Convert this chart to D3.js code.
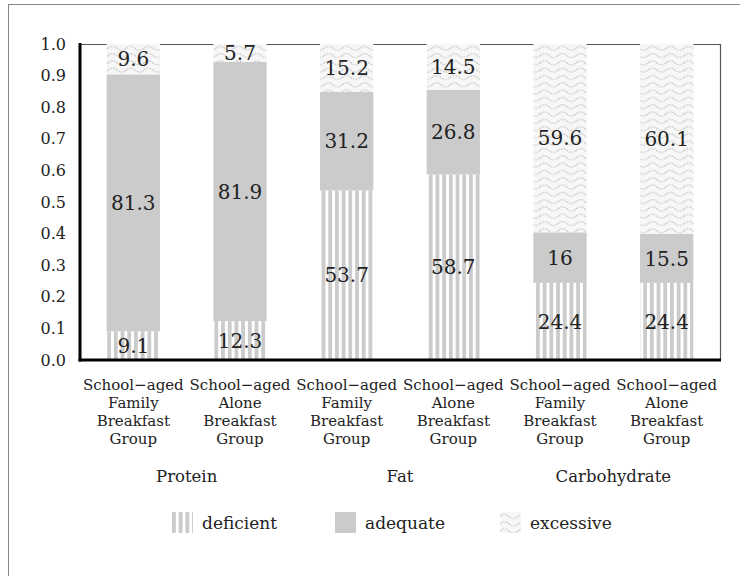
<!DOCTYPE html>
<html>
<head>
<meta charset="utf-8">
<script src="https://cdn.jsdelivr.net/npm/d3@7"></script>
<style>
  body { margin: 0; background: #fff; }
  svg { display: block; }
</style>
</head>
<body>
<svg id="svgx"></svg>
<script>
// values are % of the group (100% stacked columns)
var nutrients = ["Protein", "Fat", "Carbohydrate"];
var groupLabel = ["School\u2212aged", "Family", "Breakfast", "Group"];
var groupLabel2 = ["School\u2212aged", "Alone", "Breakfast", "Group"];
var categories = ["Protein-family", "Protein-alone", "Fat-family", "Fat-alone", "Carb-family", "Carb-alone"];
var deficient = [9.1, 12.3, 53.7, 58.7, 24.4, 24.4];
var adequate = [81.3, 81.9, 31.2, 26.8, 16, 15.5];
var excessive = [9.6, 5.7, 15.2, 14.5, 59.6, 60.1];
var seriesNames = ["deficient", "adequate", "excessive"];
var yTicks = [0, 0.1, 0.2, 0.3, 0.4, 0.5, 0.6, 0.7, 0.8, 0.9, 1.0];

var widthA = 740, heightA = 576;
var plot = {left: 80, right: 720, top: 44, bottom: 360};
var font = "'DejaVu Serif', serif";

var rows = categories.map((c, i) => ({
  cat: c,
  deficient: deficient[i],
  adequate: adequate[i],
  excessive: excessive[i]
}));

var svg = d3.select('#svgx')
  .attr('width', widthA)
  .attr('height', heightA);

// patterns
var defs = svg.append('defs');
var pStripe = defs.append('pattern')
  .attr('id', 'pat-deficient')
  .attr('patternUnits', 'userSpaceOnUse')
  .attr('width', 6.7).attr('height', 10);
pStripe.append('rect').attr('width', 6.7).attr('height', 10).attr('fill', '#fff');
pStripe.append('rect').attr('x', 0).attr('width', 3.8).attr('height', 10).attr('fill', '#cbcbcb');

var pWave = defs.append('pattern')
  .attr('id', 'pat-excessive')
  .attr('patternUnits', 'userSpaceOnUse')
  .attr('width', 18).attr('height', 7.3);
pWave.append('rect').attr('width', 18).attr('height', 7.3).attr('fill', '#f7f7f7');
pWave.append('path')
  .attr('d', 'M0,4.5 Q4.5,0.5 9,4.5 T18,4.5')
  .attr('fill', 'none')
  .attr('stroke', '#c8c8c8')
  .attr('stroke-width', 1.1)
  .attr('stroke-dasharray', '2,1');

var fills = {
  deficient: 'url(#pat-deficient)',
  adequate: '#cbcbcb',
  excessive: 'url(#pat-excessive)'
};

// outer frame
svg.append('rect')
  .attr('x', 8.5).attr('y', 4.5)
  .attr('width', 800).attr('height', 700)
  .attr('fill', 'none')
  .attr('stroke', '#888')
  .attr('stroke-width', 1);

var x = d3.scaleBand()
  .domain(categories)
  .range([plot.left, plot.right])
  .paddingInner(0.5)
  .paddingOuter(0.25);

var y = d3.scaleLinear()
  .domain([0, 1])
  .range([plot.bottom, plot.top]);

var stack = d3.stack()
  .keys(seriesNames)
  .offset(d3.stackOffsetExpand);
var stacked = stack(rows);

// thin top / right frame of plot area
svg.append('path')
  .attr('d', `M${plot.left},${plot.top + 0.5}H${plot.right + 0.5}V${plot.bottom}`)
  .attr('fill', 'none')
  .attr('stroke', '#555')
  .attr('stroke-width', 1.2);

var layers = svg.append('g').attr('class', 'bars')
  .selectAll('g')
  .data(stacked)
  .enter()
  .append('g')
  .attr('fill', d => fills[d.key]);

layers.selectAll('rect')
  .data(d => d)
  .enter()
  .append('rect')
  .attr('x', d => x(d.data.cat))
  .attr('width', x.bandwidth())
  .attr('y', d => y(d[1]))
  .attr('height', d => y(d[0]) - y(d[1]));

// value labels
stacked.forEach(layer => {
  svg.append('g')
    .selectAll('text')
    .data(layer)
    .enter()
    .append('text')
    .attr('x', d => x(d.data.cat) + x.bandwidth() / 2)
    .attr('y', d => (y(d[0]) + y(d[1])) / 2)
    .attr('dy', '.36em')
    .attr('text-anchor', 'middle')
    .style('font-family', font)
    .style('font-size', '20px')
    .attr('fill', '#222')
    .text(d => d.data[layer.key]);
});

// y axis
var yAxis = d3.axisLeft(y)
  .tickValues(yTicks)
  .tickSize(0)
  .tickPadding(14)
  .tickFormat(d3.format('.1f'));

var yG = svg.append('g')
  .attr('transform', `translate(${plot.left},0)`)
  .call(yAxis);
yG.select('.domain').remove();
yG.selectAll('text')
  .style('font-family', font)
  .style('font-size', '16px')
  .attr('fill', '#222');

// thick axis lines
svg.append('line')
  .attr('x1', plot.left).attr('x2', plot.left)
  .attr('y1', plot.top - 1).attr('y2', plot.bottom + 1.5)
  .attr('stroke', '#000').attr('stroke-width', 3);
svg.append('line')
  .attr('x1', plot.left - 1.5).attr('x2', plot.right + 1)
  .attr('y1', plot.bottom).attr('y2', plot.bottom)
  .attr('stroke', '#000').attr('stroke-width', 3);

// category labels
var catG = svg.append('g').attr('class', 'cats');
categories.forEach((c, i) => {
  var lines = i % 2 === 0 ? groupLabel : groupLabel2;
  var t = catG.append('text')
    .attr('x', x(c) + x.bandwidth() / 2)
    .attr('y', 390)
    .attr('text-anchor', 'middle')
    .style('font-family', font)
    .style('font-size', '15px')
    .attr('fill', '#222');
  t.selectAll('tspan')
    .data(lines)
    .enter()
    .append('tspan')
    .attr('x', x(c) + x.bandwidth() / 2)
    .attr('dy', (d, j) => j === 0 ? 0 : 18)
    .text(d => d);
});

// nutrient labels
svg.append('g')
  .selectAll('text')
  .data(nutrients)
  .enter()
  .append('text')
  .attr('x', (d, i) => (x(categories[i * 2]) + x(categories[i * 2 + 1]) + x.bandwidth()) / 2)
  .attr('y', 482)
  .attr('text-anchor', 'middle')
  .style('font-family', font)
  .style('font-size', '16.5px')
  .attr('fill', '#222')
  .text(d => d);

// legend
var legendX = [172, 335, 500];
var leg = svg.append('g').attr('class', 'legend')
  .selectAll('g')
  .data(seriesNames)
  .enter()
  .append('g')
  .attr('transform', (d, i) => `translate(${legendX[i]},512)`);
leg.append('rect')
  .attr('width', 21).attr('height', 21)
  .attr('fill', d => fills[d]);
leg.append('text')
  .attr('x', 30)
  .attr('y', 11)
  .attr('dy', '.35em')
  .style('font-family', font)
  .style('font-size', '17px')
  .attr('fill', '#222')
  .text(d => d);
</script>
</body>
</html>
